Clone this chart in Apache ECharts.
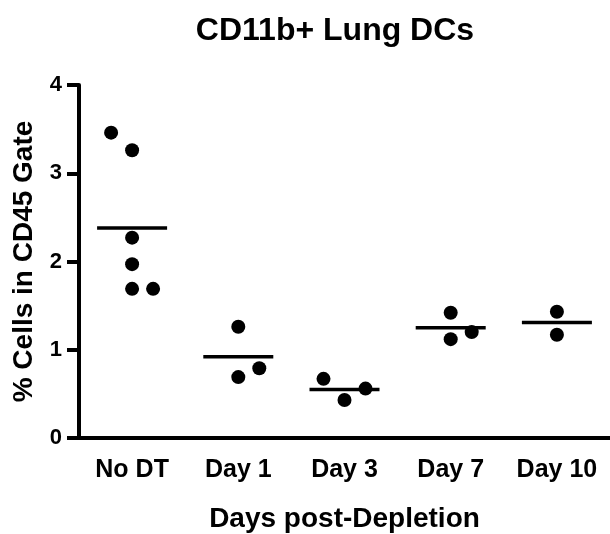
<!DOCTYPE html>
<html>
<head>
<meta charset="utf-8">
<script src="https://cdn.jsdelivr.net/npm/echarts@6/dist/echarts.min.js"></script>
<style>
  html, body { margin: 0; padding: 0; background: #fff; }
  #chart { width: 610px; height: 534px; }
</style>
</head>
<body>
<div id="chart"></div>
<script>
// Groups along the x axis
const groups = ['No DT', 'Day 1', 'Day 3', 'Day 7', 'Day 10'];

// Individual measurements (% cells in CD45 gate) per group
const noDT = [3.46, 3.26, 2.27, 1.97, 1.69, 1.69];
const day1 = [1.26, 0.69, 0.79];
const day3 = [0.67, 0.43, 0.56];
const day7 = [1.42, 1.12, 1.20];
const day10 = [1.43, 1.17];

// Group means (horizontal bars)
const means = [2.38, 0.92, 0.55, 1.25, 1.31];

// Y axis ticks
const yTicks = [0, 1, 2, 3, 4];

const values = [noDT, day1, day3, day7, day10];

// Column-scatter spread: slot per point (-1 left, 0 centre, 1 right)
const spread = [[-1, 0, 0, 0, 0, 1], [0, 0, 1], [-1, 0, 1], [0, 0, 1], [0, 0]];
const SPREAD_PX = 21;

const font = 'Liberation Sans, Arial, Helvetica, sans-serif';

const points = [];
values.forEach((vals, gi) => {
  vals.forEach((v, k) => {
    points.push({ value: [gi, v], symbolOffset: [spread[gi][k] * SPREAD_PX, 0] });
  });
});

const chart = echarts.init(document.getElementById('chart'), null, { renderer: 'canvas' });
chart.setOption({
  animation: false,
  backgroundColor: '#fff',
  title: {
    text: 'CD11b+ Lung DCs',
    left: 330,
    textAlign: 'center',
    top: 10,
    textStyle: { fontFamily: font, fontWeight: 'bold', fontSize: 32, color: '#000' }
  },
  grid: { left: 79, right: 0, top: 85, bottom: 96, containLabel: false, outerBoundsMode: 'none' },
  xAxis: {
    type: 'category',
    data: groups,
    name: 'Days post-Depletion',
    nameLocation: 'middle',
    nameGap: 67,
    nameTextStyle: { fontFamily: font, fontWeight: 'bold', fontSize: 28, color: '#000' },
    axisLine: { lineStyle: { color: '#000', width: 4 } },
    axisTick: { alignWithLabel: true, length: 11, lineStyle: { color: '#000', width: 4 } },
    axisLabel: { fontFamily: font, fontWeight: 'bold', fontSize: 25, color: '#000', margin: 20 },
    splitLine: { show: false }
  },
  yAxis: {
    type: 'value',
    min: yTicks[0],
    max: yTicks[yTicks.length - 1],
    interval: 1,
    name: '% Cells in CD45 Gate',
    nameLocation: 'middle',
    nameGap: 41,
    nameTextStyle: { fontFamily: font, fontWeight: 'bold', fontSize: 28, color: '#000' },
    axisLine: { show: true, lineStyle: { color: '#000', width: 4 } },
    axisTick: { show: true, length: 12, lineStyle: { color: '#000', width: 4 } },
    axisLabel: { fontFamily: font, fontWeight: 'bold', fontSize: 22, color: '#000', margin: 17 },
    splitLine: { show: false }
  },
  series: [
    {
      type: 'scatter',
      data: points,
      symbol: 'circle',
      symbolSize: 14,
      itemStyle: { color: '#000', opacity: 1 },
      z: 3
    },
    {
      type: 'scatter',
      data: means.map((m, i) => [i, m]),
      symbol: 'rect',
      symbolSize: [70, 3.5],
      itemStyle: { color: '#000', opacity: 1 },
      z: 2
    }
  ]
});
</script>
</body>
</html>
